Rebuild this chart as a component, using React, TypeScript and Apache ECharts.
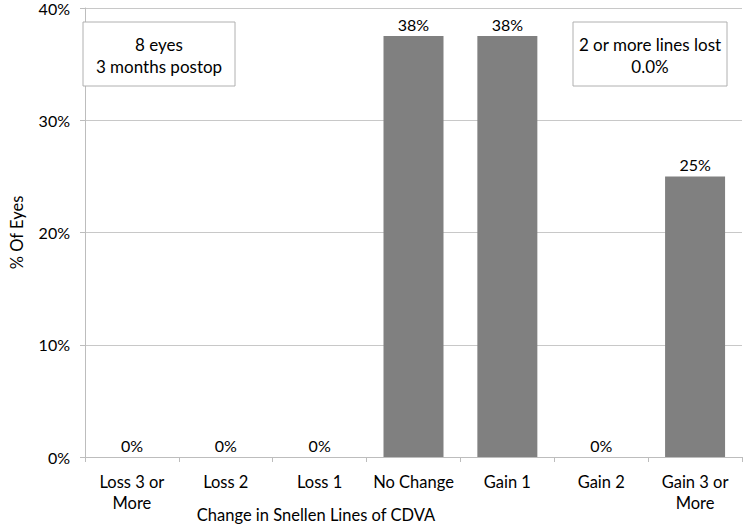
import React, { useEffect, useRef } from "react";
import * as echarts from "echarts";

const categories = [
  "Loss 3 or\nMore",
  "Loss 2",
  "Loss 1",
  "No Change",
  "Gain 1",
  "Gain 2",
  "Gain 3 or\nMore",
];
const percentEyes = [0, 0, 0, 37.5, 37.5, 0, 25];
const yTicks = { min: 0, max: 40, interval: 10 };
const boxLeftLines = ["8 eyes", "3 months postop"];
const boxRightLines = ["2 or more lines lost", "0.0%"];
const xTitle = "Change in Snellen Lines of CDVA";
const yTitle = "% Of Eyes";

const FONT = "Lato, 'Open Sans', sans-serif";
const FS = 16.5;

export default function App() {
  const ref = useRef<HTMLDivElement>(null);
  useEffect(() => {
    if (!ref.current) return;
    const chart = echarts.init(ref.current, null, { renderer: "svg" });
    chart.setOption({
      animation: false,
      backgroundColor: "#ffffff",
      textStyle: { fontFamily: FONT },
      grid: { left: 72, right: 1, top: 7, bottom: 69, containLabel: false },
      xAxis: {
        type: "category",
        data: categories,
        axisLine: { show: true, lineStyle: { color: "#bdbdbd", width: 1 } },
        axisTick: { show: true, length: 5, alignWithLabel: false, lineStyle: { color: "#bdbdbd" } },
        axisLabel: {
          color: "#000",
          fontSize: FS,
          fontFamily: FONT,
          lineHeight: 21,
          margin: 14,
          interval: 0,
        },
      },
      yAxis: {
        type: "value",
        min: yTicks.min,
        max: yTicks.max,
        interval: yTicks.interval,
        name: yTitle,
        nameLocation: "middle",
        nameGap: 60,
        nameRotate: 90,
        nameTextStyle: { color: "#000", fontSize: FS, fontFamily: FONT },
        axisLine: { show: true, lineStyle: { color: "#bdbdbd", width: 1 } },
        axisTick: { show: true, length: 5, lineStyle: { color: "#bdbdbd" } },
        axisLabel: {
          color: "#000",
          fontSize: 16,
          fontFamily: FONT,
          margin: 15,
          formatter: (v: number) => `${v}%`,
        },
        splitLine: { show: true, lineStyle: { color: "#c8c8c8", width: 1 } },
      },
      series: [
        {
          type: "bar",
          data: percentEyes,
          barWidth: 60,
          itemStyle: { color: "#808080" },
          label: {
            show: true,
            position: "top",
            distance: 4,
            color: "#000",
            fontSize: 16,
            fontFamily: FONT,
            formatter: (p: any) => `${Math.round(p.value)}%`,
          },
        },
      ],
      graphic: [
        {
          type: "rect",
          shape: { x: 83, y: 22, width: 152, height: 64 },
          style: { fill: "#fff", stroke: "#b0b0b0", lineWidth: 1 },
          z: 10,
        },
        {
          type: "text",
          x: 159,
          y: 55,
          z: 11,
          style: {
            text: boxLeftLines.join("\n"),
            fill: "#000",
            font: `17px ${FONT}`,
            lineHeight: 22,
            align: "center",
            verticalAlign: "middle",
          },
        },
        {
          type: "rect",
          shape: { x: 573, y: 22, width: 154, height: 64 },
          style: { fill: "#fff", stroke: "#b0b0b0", lineWidth: 1 },
          z: 10,
        },
        {
          type: "text",
          x: 650,
          y: 55,
          z: 11,
          style: {
            text: boxRightLines.join("\n"),
            fill: "#000",
            font: `17px ${FONT}`,
            lineHeight: 22,
            align: "center",
            verticalAlign: "middle",
          },
        },
        {
          type: "text",
          x: 316,
          y: 515,
          style: {
            text: xTitle,
            fill: "#000",
            font: `${FS}px ${FONT}`,
            align: "center",
            verticalAlign: "middle",
          },
        },
      ],
    });
    return () => chart.dispose();
  }, []);
  return <div ref={ref} style={{ width: 743, height: 526, position: "absolute", left: 0, top: 0 }} />;
}
